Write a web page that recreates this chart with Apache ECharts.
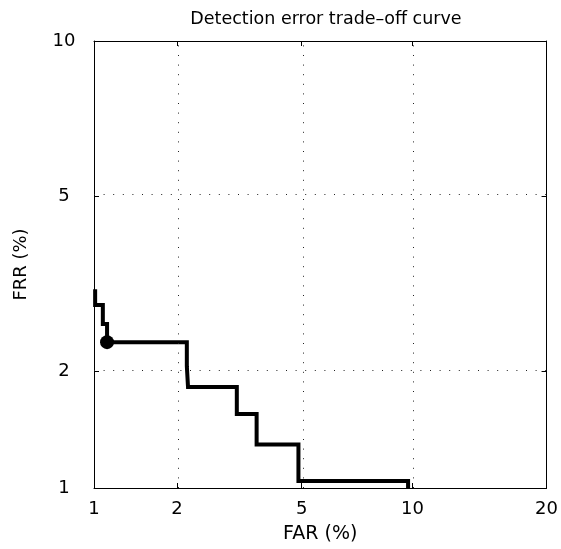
<!DOCTYPE html>
<html>
<head>
<meta charset="utf-8">
<title>Detection error trade-off curve</title>
<script src="https://cdn.jsdelivr.net/npm/echarts@6/dist/echarts.min.js"></script>
<style>
  html, body { margin: 0; padding: 0; background: #fff; }
  #chart { width: 561px; height: 549px; }
</style>
</head>
<body>
<div id="chart"></div>
<script>
// False acceptance rate (%) at each vertex of the step curve
const far = [1.01, 1.01, 1.08, 1.08, 1.12, 1.12, 2.16, 2.16, 2.18, 2.18, 3.16, 3.16, 3.65, 3.65, 4.89, 4.89, 9.75, 9.75];
// False rejection rate (%) at each vertex of the step curve
const frr = [3.13, 2.88, 2.88, 2.60, 2.60, 2.355, 2.355, 2.06, 2.06, 1.83, 1.83, 1.565, 1.565, 1.305, 1.305, 1.045, 1.045, 1.0];
// Operating point marked on the curve
const opFar = [1.12];
const opFrr = [2.355];
// Tick labels (%)
const xTicks = [1, 2, 5, 10, 20];
const yTicks = [1, 2, 5, 10];
const xGrid = [2, 5, 10];
const yGrid = [2, 5];

// Inverse of the standard normal CDF (Acklam's rational approximation)
function probit(p) {
  const a = [-3.969683028665376e+01, 2.209460984245205e+02, -2.759285104469687e+02,
             1.383577518672690e+02, -3.066479806614716e+01, 2.506628277459239e+00];
  const b = [-5.447609879822406e+01, 1.615858368580409e+02, -1.556989798598866e+02,
             6.680131188771972e+01, -1.328068155288572e+01];
  const c = [-7.784894002430293e-03, -3.223964580411365e-01, -2.400758277161838e+00,
             -2.549732539343734e+00, 4.374664141464968e+00, 2.938163982698783e+00];
  const d = [7.784695709041462e-03, 3.224671290700398e-01, 2.445134137142996e+00,
             3.754408661907416e+00];
  const pl = 0.02425;
  let q, r;
  if (p < pl) {
    q = Math.sqrt(-2 * Math.log(p));
    return (((((c[0]*q + c[1])*q + c[2])*q + c[3])*q + c[4])*q + c[5]) /
           ((((d[0]*q + d[1])*q + d[2])*q + d[3])*q + 1);
  } else if (p <= 1 - pl) {
    q = p - 0.5; r = q * q;
    return (((((a[0]*r + a[1])*r + a[2])*r + a[3])*r + a[4])*r + a[5]) * q /
           (((((b[0]*r + b[1])*r + b[2])*r + b[3])*r + b[4])*r + 1);
  } else {
    q = Math.sqrt(-2 * Math.log(1 - p));
    return -(((((c[0]*q + c[1])*q + c[2])*q + c[3])*q + c[4])*q + c[5]) /
            ((((d[0]*q + d[1])*q + d[2])*q + d[3])*q + 1);
  }
}
// Percent -> normal deviate
const nd = v => probit(v / 100);

const xTickPos = xTicks.map(nd);
const yTickPos = yTicks.map(nd);
const xMin = nd(xTicks[0]), xMax = nd(xTicks[xTicks.length - 1]);
const yMin = nd(yTicks[0]), yMax = nd(yTicks[yTicks.length - 1]);

function labelFor(ticks, pos) {
  return function (v) {
    let best = 0;
    for (let i = 1; i < pos.length; i++) {
      if (Math.abs(pos[i] - v) < Math.abs(pos[best] - v)) best = i;
    }
    return String(ticks[best]);
  };
}

const FONT = '"DejaVu Sans", "Liberation Sans", Arial, sans-serif';

const frameAxis = {
  axisLine: { show: true, onZero: false, lineStyle: { color: '#000', width: 1 } },
  splitLine: { show: false }
};

const chart = echarts.init(document.getElementById('chart'), null, { renderer: 'canvas' });

chart.setOption({
  animation: false,
  backgroundColor: '#fff',
  textStyle: { fontFamily: FONT },
  title: {
    text: 'Detection error trade\u2013off curve',
    left: 321,
    top: 5,
    textAlign: 'center',
    textStyle: { fontFamily: FONT, fontSize: 17.5, fontWeight: 'normal', color: '#000' }
  },
  grid: { left: 94, right: 14, top: 41, bottom: 56, containLabel: false },
  xAxis: [
    Object.assign({}, frameAxis, {
      type: 'value', position: 'bottom', min: xMin, max: xMax,
      name: 'FAR (%)', nameLocation: 'middle', nameGap: 37,
      nameTextStyle: { fontFamily: FONT, fontSize: 19, color: '#000' },
      axisTick: { show: true, inside: true, length: 5, customValues: xTickPos, lineStyle: { color: '#000' } },
      axisLabel: {
        show: true, customValues: xTickPos, margin: 12,
        fontFamily: FONT, fontSize: 18, color: '#000',
        formatter: labelFor(xTicks, xTickPos)
      }
    }),
    Object.assign({}, frameAxis, {
      type: 'value', position: 'top', min: xMin, max: xMax,
      axisTick: { show: true, inside: true, length: 5, customValues: xTickPos, lineStyle: { color: '#000' } },
      axisLabel: { show: false }
    })
  ],
  yAxis: [
    Object.assign({}, frameAxis, {
      type: 'value', position: 'left', min: yMin, max: yMax,
      name: 'FRR (%)', nameLocation: 'middle', nameGap: 64,
      nameTextStyle: { fontFamily: FONT, fontSize: 18, color: '#000' },
      axisTick: { show: true, inside: true, length: 5, customValues: yTickPos, lineStyle: { color: '#000' } },
      axisLabel: {
        show: true, customValues: yTickPos, margin: 30, align: 'center',
        fontFamily: FONT, fontSize: 18, color: '#000',
        formatter: labelFor(yTicks, yTickPos)
      }
    }),
    Object.assign({}, frameAxis, {
      type: 'value', position: 'right', min: yMin, max: yMax,
      axisTick: { show: true, inside: true, length: 5, customValues: yTickPos, lineStyle: { color: '#000' } },
      axisLabel: { show: false }
    })
  ],
  series: [
    {
      // dotted grid at the interior tick positions
      name: 'grid',
      type: 'line',
      data: [],
      z: 1,
      silent: true,
      markLine: {
        silent: true,
        symbol: 'none',
        label: { show: false },
        lineStyle: { color: '#222', width: 1, type: [1, 8.6] },
        data: xGrid.map(v => ({ xAxis: nd(v) })).concat(yGrid.map(v => ({ yAxis: nd(v) })))
      }
    },
    {
      name: 'DET',
      type: 'line',
      z: 3,
      showSymbol: false,
      clip: true,
      lineStyle: { color: '#000', width: 4, join: 'miter', cap: 'butt' },
      data: far.map((x, i) => [nd(x), nd(frr[i])])
    },
    {
      name: 'operating point',
      type: 'scatter',
      z: 4,
      symbol: 'circle',
      symbolSize: 14,
      itemStyle: { color: '#000', opacity: 1 },
      data: opFar.map((x, i) => [nd(x), nd(opFrr[i])])
    }
  ]
});
</script>
</body>
</html>
